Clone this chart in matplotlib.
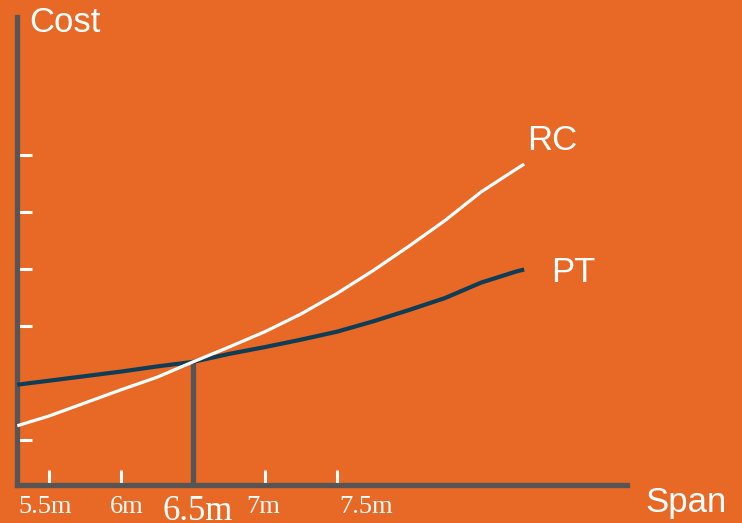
import matplotlib
matplotlib.use("Agg")
import matplotlib.pyplot as plt

# span (m) vs relative cost for the two slab systems
span = [5.28, 5.5, 5.75, 6.0, 6.25, 6.5, 6.75, 7.0, 7.25, 7.5, 7.75, 8.0, 8.25, 8.5, 8.75, 8.8]
rc_cost = [1.25, 1.42, 1.65, 1.88, 2.10, 2.37, 2.63, 2.90, 3.21, 3.57, 3.97, 4.40, 4.85, 5.35, 5.76, 5.84]
pt_cost = [1.97, 2.04, 2.12, 2.20, 2.29, 2.37, 2.51, 2.63, 2.76, 2.90, 3.08, 3.28, 3.49, 3.76, 3.96, 3.99]

break_even_span = 6.5
break_even_cost = 2.37

tick_spans = [5.5, 6, 7, 7.5]
cost_ticks = [1, 2, 3, 4, 5, 6]
span_labels = ["5.5m", "6m", "7m", "7.5m"]
label_x = [5.47, 6.04, 6.99, 7.70]

bg = "#E86826"
axis_grey = "#555555"
navy = "#0F3D55"
sans = "Liberation Sans"
serif = "Liberation Serif"

fig = plt.figure(figsize=(7.42, 5.23), dpi=100, facecolor=bg)
W, H = 742, 523
ax = fig.add_axes([17 / W, 1 - 485 / H, (627 - 17) / W, (485 - 17) / H])
ax.set_facecolor(bg)

ax.set_xlim(5.278, 9.514)
ax.set_ylim(0.2105, 8.42)

for side in ["top", "right"]:
    ax.spines[side].set_visible(False)
for side in ["left", "bottom"]:
    ax.spines[side].set_color(axis_grey)
    ax.spines[side].set_linewidth(3.8)
    ax.spines[side].set_capstyle("projecting")

ax.set_xticks(tick_spans)
ax.set_yticks(cost_ticks)
ax.tick_params(axis="x", direction="in", length=11, width=2.2, color="white",
               labelbottom=False)
ax.tick_params(axis="y", direction="in", length=11, width=2.2, color="white",
               labelleft=False)

ax.plot(span, pt_cost, color=navy, lw=3.0, solid_capstyle="butt",
        solid_joinstyle="round", zorder=3)
ax.plot(span, rc_cost, color="white", lw=2.3, solid_capstyle="butt",
        solid_joinstyle="round", zorder=4)
ax.vlines(break_even_span, 0.2105, break_even_cost, color=axis_grey, lw=3.8, zorder=2)

# span labels under the axis
for x, lab in zip(label_x, span_labels):
    ax.text(x, -0.28, lab, ha="center", va="baseline", color="white",
            fontsize=19, family=serif, clip_on=False)
ax.text(6.535, -0.41, "6.5m", ha="center", va="baseline", color="white",
        fontsize=25, family=serif, clip_on=False)

ax.text(8.82, 6.09, "RC", ha="left", va="baseline", color="white",
        fontsize=25, family=sans)
ax.text(8.99, 3.77, "PT", ha="left", va="baseline", color="white",
        fontsize=25, family=sans)

fig.text(29 / W, 1 - 6 / H, "Cost", ha="left", va="top", color="white",
         fontsize=25, family=sans)
fig.text(645 / W, 1 - 512 / H, "Span", ha="left", va="baseline", color="white",
         fontsize=25, family=sans)

fig.savefig("out.png", dpi=100, facecolor=bg)
